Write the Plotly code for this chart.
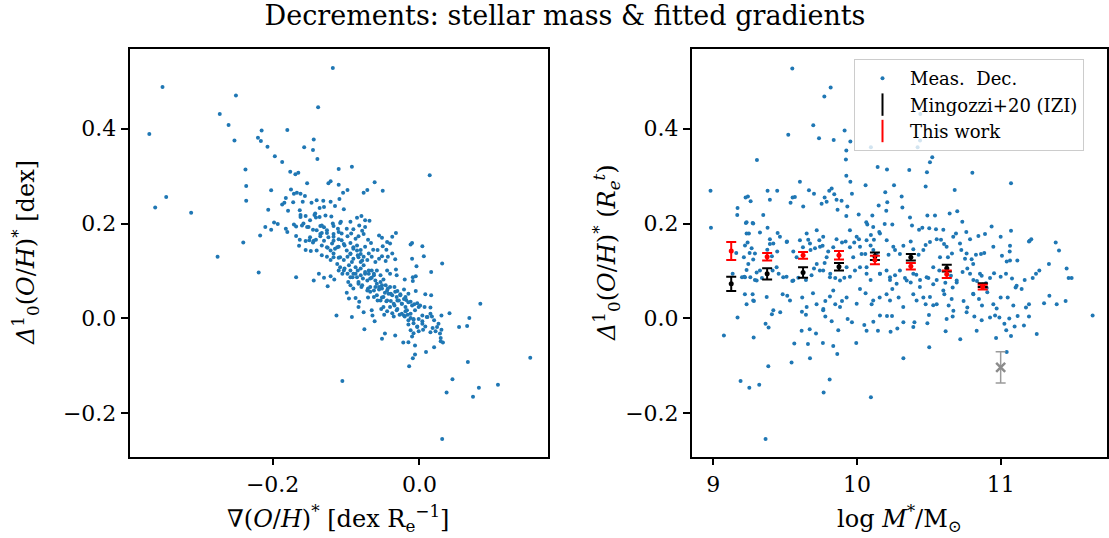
import plotly.graph_objects as go

# ---------------- left panel: gradient vs decrement ----------------
grad_x = [
    -0.118, -0.350, -0.250, -0.138, -0.272, -0.260, -0.368, -0.215, -0.180, -0.220,
    -0.216, -0.252, -0.144, -0.207, -0.157, -0.145, -0.139, -0.197, -0.187, -0.237,
    -0.110, -0.092, -0.176, -0.169, -0.165, 0.014, -0.236, -0.121, -0.061, -0.153,
    -0.110, -0.124, -0.202, -0.175, -0.050, -0.071, -0.076, -0.098, -0.104, -0.345,
    -0.236, -0.360, -0.311, -0.206,
    -0.182, -0.171, -0.167, -0.162, -0.156, -0.187, -0.184, -0.172, -0.159, -0.147,
    -0.140, -0.131, -0.121, -0.109, -0.115, -0.103, -0.179, -0.163, -0.162, -0.155,
    -0.143, -0.130, -0.136, -0.141, -0.136, -0.128, -0.120, -0.107, -0.094, -0.085,
    -0.079, -0.074, -0.068, -0.171, -0.168, -0.160, -0.151, -0.145, -0.135, -0.130,
    -0.126, -0.118, -0.117, -0.111, -0.108, -0.099, -0.090, -0.082, -0.078, -0.074,
    -0.198, -0.193, -0.210, -0.202, -0.217, -0.182, -0.180, -0.168, -0.163, -0.155,
    -0.150, -0.145, -0.141, -0.135, -0.133, -0.126, -0.117, -0.110, -0.106, -0.098,
    -0.093, -0.087, -0.083, -0.076, -0.070, -0.066, -0.055, -0.051, -0.044, -0.040,
    -0.032, -0.037,
    -0.240, -0.164, -0.155, -0.148, -0.140, -0.133, -0.125, -0.119, -0.115, -0.110,
    -0.106, -0.102, -0.094, -0.090, -0.085, -0.080, -0.074, -0.069, -0.063, -0.057,
    -0.050, -0.045, -0.037, -0.010, 0.004, -0.012, -0.275, -0.133, -0.126, -0.121,
    -0.117, -0.110, -0.103, -0.098, -0.094, -0.090, -0.084, -0.080, -0.076, -0.071,
    -0.065, -0.060, -0.055, -0.051, -0.046, -0.043, -0.033, -0.010, 0.006, 0.031,
    -0.004, -0.219, -0.168, -0.144, -0.137, -0.130, -0.121, -0.116, -0.125, -0.110,
    -0.105, -0.102, -0.098, -0.094, -0.091, -0.087, -0.084, -0.080, -0.077, -0.074,
    -0.069, -0.065, -0.062, -0.058, -0.053, -0.049, -0.044, -0.040, -0.032, -0.031,
    -0.020, -0.009, -0.005, 0.016, -0.009,
    -0.097, -0.094, -0.099, -0.090, -0.083, -0.079, -0.070, -0.067, -0.060, -0.055,
    -0.051, -0.047, -0.043, -0.039, -0.034, -0.030, -0.026, -0.021, -0.019, -0.015,
    -0.005, 0.008, 0.016, -0.096, -0.087, -0.082, -0.070, -0.062, -0.057, -0.051,
    -0.045, -0.039, -0.034, -0.030, -0.024, -0.018, -0.012, -0.007, -0.003, 0.001,
    0.007, 0.015, 0.083, -0.083, -0.076, -0.065, -0.052, -0.044, -0.037, -0.030,
    -0.024, -0.019,
    -0.113, -0.092, -0.064, -0.048, -0.035, -0.027, -0.020, -0.016, -0.012, -0.008,
    -0.001, 0.004, 0.011, 0.017, 0.030, 0.041, 0.068, -0.061, -0.015, -0.008,
    -0.003, 0.004, 0.008, 0.018, 0.026, 0.030, 0.054, 0.065, -0.075, -0.012,
    -0.008, -0.001, 0.005, 0.015, 0.022, 0.028, -0.047, -0.033, -0.010, -0.051,
    0.029, 0.032, 0.029, -0.022, -0.015, -0.006, 0.020, 0.009, -0.006, -0.009,
    -0.014, 0.066, 0.151, -0.105, 0.045, 0.037, 0.081, 0.073, 0.107, 0.031,
]
dec_left = [
    0.528, 0.488, 0.470, 0.445, 0.431, 0.408, 0.389, 0.396, 0.397, 0.381,
    0.374, 0.375, 0.377, 0.362, 0.361, 0.355, 0.336, 0.342, 0.330, 0.314,
    0.315, 0.320, 0.309, 0.304, 0.307, 0.302, 0.279, 0.289, 0.287, 0.285,
    0.282, 0.285, 0.270, 0.272, 0.269, 0.271, 0.265, 0.271, 0.265, 0.256,
    0.248, 0.234, 0.223, 0.229,
    0.254, 0.263, 0.265, 0.263, 0.258, 0.240, 0.244, 0.245, 0.246, 0.244,
    0.249, 0.248, 0.246, 0.252, 0.237, 0.230, 0.227, 0.228, 0.218, 0.216,
    0.218, 0.235, 0.233, 0.213, 0.214, 0.217, 0.215, 0.204, 0.204, 0.212,
    0.216, 0.207, 0.206, 0.198, 0.194, 0.196, 0.193, 0.187, 0.195, 0.192,
    0.186, 0.200, 0.195, 0.189, 0.201, 0.189, 0.188, 0.196, 0.185, 0.193,
    0.202, 0.199, 0.193, 0.187, 0.175, 0.189, 0.182, 0.174, 0.166, 0.163,
    0.165, 0.160, 0.166, 0.173, 0.180, 0.180, 0.172, 0.167, 0.179, 0.173,
    0.179, 0.168, 0.173, 0.178, 0.166, 0.159, 0.175, 0.170, 0.161, 0.158,
    0.180, 0.172,
    0.160, 0.153, 0.144, 0.142, 0.143, 0.154, 0.149, 0.158, 0.147, 0.151,
    0.165, 0.154, 0.159, 0.147, 0.154, 0.144, 0.151, 0.137, 0.145, 0.144,
    0.152, 0.145, 0.137, 0.159, 0.152, 0.156, 0.130, 0.133, 0.130, 0.123,
    0.137, 0.128, 0.123, 0.130, 0.137, 0.126, 0.133, 0.119, 0.130, 0.123,
    0.130, 0.119, 0.126, 0.131, 0.121, 0.130, 0.125, 0.126, 0.131, 0.116,
    0.110, 0.097, 0.087, 0.080, 0.094, 0.086, 0.089, 0.082, 0.068, 0.101,
    0.094, 0.105, 0.094, 0.101, 0.087, 0.094, 0.101, 0.091, 0.084, 0.094,
    0.101, 0.086, 0.094, 0.101, 0.091, 0.082, 0.101, 0.094, 0.103, 0.091,
    0.082, 0.087, 0.089, 0.098, 0.079,
    0.077, 0.070, 0.054, 0.063, 0.073, 0.066, 0.063, 0.056, 0.066, 0.061,
    0.070, 0.054, 0.063, 0.052, 0.066, 0.058, 0.051, 0.061, 0.045, 0.052,
    0.058, 0.051, 0.049, 0.042, 0.043, 0.035, 0.044, 0.045, 0.038, 0.044,
    0.036, 0.037, 0.027, 0.038, 0.031, 0.039, 0.035, 0.030, 0.032, 0.027,
    0.024, 0.023, 0.031, 0.024, 0.013, 0.017, 0.020, 0.015, 0.011, 0.020,
    0.010, 0.015,
    0.006, 0.003, 0.006, 0.008, 0.004, 0.008, 0.004, 0.008, 0.001, -0.003,
    -0.001, -0.006, 0.003, 0.004, 0.006, 0.011, 0.001, -0.006, -0.013, -0.010,
    -0.017, -0.011, -0.017, -0.020, -0.011, -0.024, -0.018, -0.016, -0.023, -0.025,
    -0.031, -0.027, -0.024, -0.029, -0.027, -0.032, -0.032, -0.036, -0.038, -0.043,
    -0.041, -0.051, -0.048, -0.051, -0.050, -0.057, -0.061, -0.071, -0.076, -0.084,
    -0.101, -0.092, -0.083, -0.132, -0.128, -0.156, -0.146, -0.165, -0.140, -0.254,
]
# extra points read from the dense core of the left panel
grad_x_core = [
    -0.099, -0.094, -0.090, -0.085, -0.083, -0.080, -0.078, -0.092, -0.096, -0.087,
    -0.080, -0.076, -0.074, -0.069, -0.065, -0.062, -0.067, -0.071, -0.060, -0.058,
    -0.053, -0.055, -0.051, -0.046, -0.044, -0.040, -0.042, -0.037, -0.033, -0.031,
    -0.026, -0.028, -0.024, -0.021, -0.019, -0.015, -0.017, -0.012, -0.049, -0.053,
    -0.044, -0.062, -0.067, -0.085, -0.090, -0.094, -0.103, -0.108, -0.112, -0.117,
    -0.108, -0.103, -0.112, -0.117, -0.121, -0.126, -0.130, -0.124, -0.117, -0.110,
    -0.135, -0.140, -0.144, -0.149, -0.153, -0.158, -0.162, -0.149, -0.142, -0.133,
    -0.071, -0.078, -0.083, -0.058, -0.035, -0.040, -0.049, -0.031, -0.021, -0.010,
    -0.006, -0.001, -0.008, -0.015, 0.004, 0.010, 0.015, 0.020, 0.024, -0.003,
]
dec_left_core = [
    0.143, 0.136, 0.150, 0.143, 0.129, 0.136, 0.122, 0.119, 0.112, 0.108,
    0.105, 0.112, 0.098, 0.094, 0.101, 0.091, 0.084, 0.080, 0.080, 0.073,
    0.077, 0.066, 0.063, 0.070, 0.059, 0.066, 0.052, 0.049, 0.056, 0.045,
    0.049, 0.038, 0.031, 0.041, 0.024, 0.034, 0.017, 0.010, 0.045, 0.038,
    0.038, 0.059, 0.066, 0.087, 0.094, 0.087, 0.101, 0.108, 0.115, 0.129,
    0.129, 0.157, 0.150, 0.164, 0.143, 0.150, 0.164, 0.171, 0.178, 0.182,
    0.178, 0.186, 0.164, 0.171, 0.193, 0.200, 0.214, 0.207, 0.221, 0.196,
    0.059, 0.070, 0.077, 0.049, 0.031, 0.024, 0.024, 0.017, 0.006, 0.027,
    0.017, 0.024, -0.001, -0.004, 0.006, 0.003, 0.010, -0.004, -0.018, -0.018,
]

# ---------------- right panel: stellar mass vs decrement ----------------
log_mass = [
    9.550, 9.817, 9.773, 9.696, 9.522, 9.736, 9.838, 9.914, 9.954, 9.926,
    10.097, 10.422, 10.439, 10.441, 10.578, 9.304, 9.923, 10.144, 10.209, 10.364,
    9.926, 9.954, 10.478, 10.524, 10.508, 10.487, 10.803, 10.258, 10.060, 9.965,
    10.680, 11.072, 8.981, 9.225, 9.241, 9.260, 9.169, 9.378, 9.445, 9.394,
    9.538, 9.552, 9.603, 9.568, 9.626, 9.666, 9.701, 9.754, 9.775, 9.789,
    9.807, 9.824, 9.842, 9.858, 9.893, 9.865, 9.933, 9.926, 10.012, 10.065,
    10.072, 10.107, 10.151, 10.197, 10.211, 10.204, 10.193, 10.155, 10.097, 10.118,
    10.246, 10.311, 10.316, 10.369, 10.383, 10.432, 10.455, 10.490, 10.503, 10.543,
    10.550, 10.601, 10.645, 10.698, 10.733, 10.689, 10.761, 10.787, 10.845, 10.891,
    10.937, 11.000, 11.072, 11.065, 11.063, 11.213, 11.197, 11.383, 11.406,
    9.167, 9.227, 9.274, 9.248, 9.325, 9.378, 9.394, 9.376, 9.394, 9.448,
    9.445, 9.513, 9.557, 9.580, 9.624, 9.661, 9.677, 9.708, 9.738, 9.761,
    9.800, 9.835, 9.858, 9.896, 9.921, 9.951, 9.981, 10.014, 10.032, 10.058,
    10.095, 10.114, 10.137, 10.220, 10.265, 10.299, 10.323, 10.374, 10.392, 10.429,
    10.462, 10.478, 10.508, 10.555, 10.585, 10.606, 10.633, 10.661, 10.726, 10.752,
    10.798, 10.828, 10.863, 10.886, 10.949, 11.009, 11.042, 11.065, 11.116, 11.202,
    9.213, 9.278, 9.302, 9.267, 9.239, 9.253, 9.160,
    8.984, 9.216, 9.290, 9.339, 9.413, 9.455, 9.510, 9.550, 9.592, 9.645,
    9.684, 9.701, 9.742, 9.775, 9.814, 9.849, 9.912, 9.951, 9.986, 10.021,
    10.067, 10.095, 10.160, 10.206, 10.230, 10.265, 10.299, 10.334, 10.374, 10.413,
    10.439, 10.497, 10.531, 10.555, 10.573, 10.615, 10.654, 10.666, 10.694, 10.735,
    10.768, 10.787, 10.810, 10.835, 10.868, 10.898, 10.926, 10.954, 11.000, 11.037,
    11.079, 11.111, 11.146, 11.167, 11.223, 11.246, 11.269, 11.336, 11.459, 11.473,
    11.494, 9.135, 9.200, 9.232, 9.258, 9.408,
    9.220, 9.274, 9.232, 9.283, 9.483, 9.515, 9.619, 9.694, 9.719, 9.766,
    9.780, 9.812, 9.849, 9.896, 9.928, 10.021, 10.060, 10.102, 10.158, 10.206,
    10.246, 10.290, 10.392, 10.462, 10.478, 10.531, 10.555, 10.608, 10.638, 10.659,
    10.671, 10.742, 10.768, 10.810, 10.849, 10.870, 10.907, 10.949, 10.972, 11.000,
    11.049, 11.088, 11.176, 11.197, 11.302, 11.339, 11.390, 11.452, 11.104, 10.903,
    9.169, 9.074, 9.281, 9.364, 9.385, 9.408, 9.466, 9.564, 9.617, 9.645,
    9.615, 9.659, 9.671, 9.715, 9.763, 9.780, 9.824, 9.835, 9.863, 9.870,
    9.935, 9.965, 9.995, 10.051, 10.067, 10.114, 10.146, 10.160, 10.209, 10.244,
    10.234, 10.281, 10.323, 10.392, 10.400, 10.501, 10.503, 10.490, 10.624, 10.617,
    10.666, 10.719, 10.763, 10.817, 10.833, 10.868, 10.926, 10.961, 10.968, 10.991,
    11.026, 11.039, 11.072, 11.060, 11.097, 11.118, 11.162, 11.197, 11.251, 11.640,
    11.042,
    9.190, 9.251, 9.320, 9.383, 9.545, 9.673, 9.768, 9.810, 10.097, 10.323, 9.364,
]
dec_right = [
    0.527, 0.487, 0.468, 0.407, 0.387, 0.380, 0.376, 0.396, 0.373, 0.354,
    0.361, 0.361, 0.375, 0.431, 0.396, 0.334, 0.335, 0.319, 0.314, 0.313,
    0.301, 0.288, 0.278, 0.340, 0.329, 0.308, 0.307, 0.281, 0.281, 0.263,
    0.271, 0.285, 0.269, 0.255, 0.257, 0.247, 0.233, 0.269, 0.269, 0.250,
    0.244, 0.255, 0.288, 0.256, 0.236, 0.270, 0.263, 0.242, 0.255, 0.246,
    0.269, 0.274, 0.262, 0.250, 0.248, 0.229, 0.236, 0.216, 0.219, 0.203,
    0.198, 0.217, 0.238, 0.266, 0.245, 0.227, 0.199, 0.182, 0.176, 0.166,
    0.198, 0.257, 0.234, 0.213, 0.196, 0.187, 0.191, 0.217, 0.190, 0.217,
    0.188, 0.187, 0.221, 0.226, 0.204, 0.179, 0.182, 0.167, 0.174, 0.178,
    0.194, 0.172, 0.185, 0.153, 0.141, 0.167, 0.162, 0.160, 0.143,
    0.218, 0.201, 0.201, 0.179, 0.181, 0.191, 0.167, 0.145, 0.157, 0.180,
    0.141, 0.162, 0.141, 0.129, 0.150, 0.166, 0.144, 0.148, 0.165, 0.153,
    0.141, 0.150, 0.167, 0.160, 0.162, 0.150, 0.160, 0.167, 0.136, 0.136,
    0.154, 0.144, 0.136, 0.134, 0.144, 0.136, 0.153, 0.162, 0.146, 0.134,
    0.144, 0.155, 0.161, 0.167, 0.166, 0.157, 0.129, 0.137, 0.144, 0.126,
    0.125, 0.134, 0.136, 0.138, 0.151, 0.132, 0.120, 0.122, 0.122, 0.164,
    0.129, 0.124, 0.097, 0.148, 0.160, 0.138, 0.138,
    0.191, 0.088, 0.081, 0.085, 0.101, 0.094, 0.088, 0.079, 0.086, 0.081,
    0.091, 0.105, 0.101, 0.117, 0.094, 0.085, 0.086, 0.088, 0.101, 0.108,
    0.094, 0.081, 0.094, 0.101, 0.081, 0.091, 0.101, 0.085, 0.076, 0.092,
    0.081, 0.085, 0.072, 0.081, 0.101, 0.075, 0.090, 0.065, 0.076, 0.098,
    0.105, 0.094, 0.081, 0.079, 0.090, 0.074, 0.085, 0.095, 0.088, 0.094,
    0.084, 0.069, 0.062, 0.081, 0.085, 0.094, 0.101, 0.115, 0.105, 0.085,
    0.085, 0.094, 0.087, 0.102, 0.087, 0.131,
    0.051, 0.051, 0.030, 0.037, 0.051, 0.048, 0.044, 0.053, 0.030, 0.020,
    0.037, 0.046, 0.030, 0.037, 0.044, 0.062, 0.053, 0.030, 0.044, 0.051,
    0.062, 0.044, 0.051, 0.044, 0.030, 0.028, 0.030, 0.051, 0.027, 0.041,
    0.016, 0.037, 0.023, 0.051, 0.041, 0.027, 0.055, 0.030, 0.021, 0.044,
    0.044, 0.027, 0.023, 0.030, 0.032, 0.048, 0.030, 0.037, 0.065, 0.064,
    0.002, -0.036, -0.040, -0.011, -0.019, 0.009, 0.013, -0.053, 0.014, 0.008,
    -0.026, -0.054, -0.023, -0.032, -0.052, 0.004, -0.006, -0.058, -0.075, -0.025,
    -0.001, -0.008, -0.052, -0.014, -0.026, -0.007, -0.026, 0.006, 0.005, 0.005,
    -0.028, -0.021, -0.008, -0.018, -0.008, 0.007, -0.061, -0.010, -0.001, -0.027,
    0.004, -0.044, 0.013, 0.004, -0.026, -0.004, 0.002, 0.006, -0.041, 0.002,
    -0.011, -0.025, -0.037, 0.000, -0.017, 0.005, -0.015, 0.004, -0.033, 0.006,
    -0.071,
    -0.132, -0.146, -0.140, -0.101, -0.093, -0.084, -0.156, -0.129, -0.166, -0.084, -0.254,
]
log_mass_band = [
    9.232, 9.278, 9.348, 9.232, 9.221, 9.290, 9.244, 9.221, 9.302, 9.325,
    9.418, 9.464, 9.511, 9.441, 9.487, 9.557, 9.603, 9.650, 9.720, 9.765,
    9.673, 9.743, 9.789, 9.720, 9.765, 9.812, 9.882, 9.835, 9.928, 9.974,
    10.021, 10.067, 9.998, 9.951, 10.113, 10.160, 10.207, 10.253, 10.067, 10.160,
    10.230, 10.276, 10.346, 10.392, 10.438, 10.485, 10.531, 10.578, 10.624, 10.670,
    10.717, 10.763, 10.809, 10.856, 10.694, 10.601, 10.508, 10.415, 10.322, 10.230,
    10.113, 9.998, 9.882, 9.765, 9.650, 9.534, 9.418, 9.372, 9.278, 10.809,
]
dec_right_band = [
    0.203, 0.200, 0.218, 0.179, 0.154, 0.137, 0.115, 0.087, 0.080, 0.101,
    0.158, 0.172, 0.161, 0.108, 0.087, 0.080, 0.165, 0.179, 0.186, 0.172,
    0.158, 0.151, 0.129, 0.115, 0.101, 0.087, 0.080, 0.059, 0.108, 0.129,
    0.151, 0.165, 0.172, 0.186, 0.193, 0.179, 0.165, 0.151, 0.108, 0.094,
    0.087, 0.073, 0.080, 0.094, 0.066, 0.087, 0.108, 0.129, 0.151, 0.172,
    0.158, 0.137, 0.115, 0.094, 0.080, 0.059, 0.045, 0.038, 0.024, 0.038,
    0.038, 0.031, 0.024, 0.017, 0.024, 0.038, 0.017, 0.045, 0.038, 0.052,
]

# binned comparison values
bin_mass = [9.125, 9.375, 9.625, 9.875, 10.125, 10.375, 10.625, 10.875]
mingozzi_dec = [0.073, 0.094, 0.097, 0.109, 0.131, 0.129, 0.106, 0.070]
mingozzi_err = [0.015, 0.012, 0.011, 0.008, 0.008, 0.007, 0.007, 0.004]
thiswork_dec = [0.142, 0.130, 0.133, 0.133, 0.123, 0.110, 0.093, 0.066]
thiswork_err = [0.019, 0.008, 0.007, 0.009, 0.009, 0.007, 0.008, 0.005]
typical_mass = [11.0]
typical_dec = [-0.103]
typical_err = [0.033]

BLUE = "#1f77b4"
FONT = "DejaVu Serif"

fig = go.Figure()

fig.add_trace(go.Scatter(
    x=grad_x + grad_x_core, y=dec_left + dec_left_core, mode="markers", xaxis="x", yaxis="y",
    marker=dict(size=4, color=BLUE, line=dict(width=0)), showlegend=False))

fig.add_trace(go.Scatter(
    x=log_mass + log_mass_band, y=dec_right + dec_right_band, mode="markers", xaxis="x2", yaxis="y2",
    marker=dict(size=4, color=BLUE, line=dict(width=0)), name="Meas.  Dec."))

fig.add_trace(go.Scatter(
    x=bin_mass, y=mingozzi_dec, mode="markers", xaxis="x2", yaxis="y2",
    marker=dict(size=5, color="black"),
    error_y=dict(type="data", array=mingozzi_err, color="black", thickness=2, width=5),
    showlegend=False))

fig.add_trace(go.Scatter(
    x=bin_mass, y=thiswork_dec, mode="markers", xaxis="x2", yaxis="y2",
    marker=dict(size=5, color="red"),
    error_y=dict(type="data", array=thiswork_err, color="red", thickness=2, width=5),
    showlegend=False))

fig.add_trace(go.Scatter(
    x=typical_mass, y=typical_dec, mode="markers", xaxis="x2", yaxis="y2",
    marker=dict(size=9, color="#8c8c8c", symbol="x-thin", line=dict(width=2.5, color="#8c8c8c")),
    error_y=dict(type="data", array=typical_err, color="#9a9a9a", thickness=1.5, width=5),
    showlegend=False))

# legend entries
fig.add_trace(go.Scatter(
    x=[None], y=[None], mode="markers", xaxis="x2", yaxis="y2",
    marker=dict(size=18, symbol="line-ns-open", color="black", line=dict(width=2, color="black")),
    name="Mingozzi+20 (IZI)"))
fig.add_trace(go.Scatter(
    x=[None], y=[None], mode="markers", xaxis="x2", yaxis="y2",
    marker=dict(size=18, symbol="line-ns-open", color="red", line=dict(width=2, color="red")),
    name="This work"))

axis_common = dict(
    showline=True, mirror=True, linecolor="black", linewidth=1.5,
    ticks="outside", ticklen=7, tickwidth=1.5, tickcolor="black",
    showgrid=False, zeroline=False,
    tickfont=dict(family=FONT, size=22, color="black"),
)

y_dom = [1 - 456.7 / 538, 1 - 49 / 538]

fig.update_layout(
    width=1109, height=538,
    margin=dict(l=0, r=0, t=0, b=0),
    paper_bgcolor="white", plot_bgcolor="white",
    font=dict(family=FONT, color="black"),
    xaxis=dict(domain=[129.5 / 1109, 547.5 / 1109], range=[-0.395, 0.1745],
               tickvals=[-0.2, 0.0], tickformat=".1f", anchor="y", **axis_common),
    yaxis=dict(domain=y_dom, range=[-0.2915, 0.568],
               tickvals=[-0.2, 0.0, 0.2, 0.4], tickformat=".1f", anchor="x", **axis_common),
    xaxis2=dict(domain=[691.7 / 1109, 1107 / 1109], range=[8.85, 11.74],
                tickvals=[9, 10, 11], anchor="y2", **axis_common),
    yaxis2=dict(domain=y_dom, range=[-0.2915, 0.568],
                tickvals=[-0.2, 0.0, 0.2, 0.4], tickformat=".1f", anchor="x2", **axis_common),
    title=dict(text="Decrements: stellar mass &amp; fitted gradients",
               x=565 / 1109, xanchor="center", xref="paper",
               y=1 - 16 / 538, yanchor="middle", yref="paper",
               font=dict(family=FONT, size=27, color="black")),
    legend=dict(x=854 / 1109, y=1 - 59 / 538, xanchor="left", yanchor="top",
                bgcolor="rgba(255,255,255,0.8)", bordercolor="#cccccc", borderwidth=1,
                font=dict(family=FONT, size=18, color="black"),
                itemsizing="trace", itemwidth=45, tracegroupgap=0),
    showlegend=True,
)

annots = [
    dict(text="∇(<i>O</i>/<i>H</i>)<sup>*</sup> [dex R<sub>e</sub><sup>−1</sup>]",
         x=338 / 1109, y=1 - 518 / 538, textangle=0, size=24),
    dict(text="log <i>M</i><sup>*</sup>/M<sub>⊙</sub>",
         x=899 / 1109, y=1 - 518 / 538, textangle=0, size=24),
    dict(text="<i>Δ</i><sup>1</sup><sub>0</sub>(<i>O</i>/<i>H</i>)<sup>*</sup> [dex]",
         x=25 / 1109, y=1 - 253 / 538, textangle=-90, size=24),
    dict(text="<i>Δ</i><sup>1</sup><sub>0</sub>(<i>O</i>/<i>H</i>)<sup>*</sup> (<i>R</i><sub><i>e</i></sub><sup><i>t</i></sup>)",
         x=606 / 1109, y=1 - 253 / 538, textangle=-90, size=24),
]
for a in annots:
    sz = a.pop("size")
    fig.add_annotation(xref="paper", yref="paper", xanchor="center", yanchor="middle",
                       showarrow=False, font=dict(family=FONT, size=sz, color="black"), **a)

fig.write_html("out.html")
